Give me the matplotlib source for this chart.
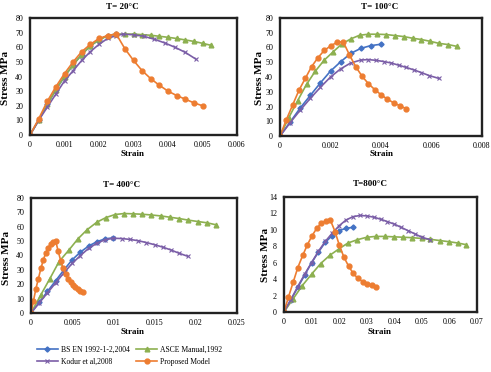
import matplotlib
matplotlib.use('Agg')
import matplotlib.pyplot as plt
from matplotlib.lines import Line2D

plt.rcParams['font.family'] = ['Liberation Serif', 'DejaVu Serif']

# colours (Excel style)
c_bs = '#4472C4'
c_asce = '#8DB050'
c_kodur = '#7B5EA7'
c_prop = '#ED7D31'

# ---- T = 20 C ----
bs20_x = [0, 0.00025, 0.0005, 0.00075, 0.001, 0.00125, 0.0015, 0.00175, 0.002, 0.00225, 0.0025]
bs20_y = [0, 10, 21, 31, 40, 48, 55, 61, 65, 68, 69]
asce20_x = [0, 0.00025, 0.0005, 0.00075, 0.001, 0.00125, 0.0015, 0.00175, 0.002, 0.00225, 0.0025,
            0.00275, 0.003, 0.00325, 0.0035, 0.00375, 0.004, 0.00425, 0.0045, 0.00475, 0.005, 0.00525]
asce20_y = [0, 10, 21, 31, 40, 48, 55, 61, 65, 68, 69,
            69, 69, 68.6, 68.2, 67.5, 66.8, 66, 65, 64, 62.7, 61.3]
kod20_x = [0, 0.00025, 0.0005, 0.00075, 0.001, 0.00125, 0.0015, 0.00175, 0.002, 0.00225, 0.0025, 0.0027,
           0.003, 0.0033, 0.0036, 0.0039, 0.0042, 0.0045, 0.0048]
kod20_y = [0, 10, 19, 28, 37, 44, 51, 57, 62, 66, 68, 69,
           68.5, 67.5, 65.5, 63, 60, 56.5, 52]
prop20_x = [0, 0.00025, 0.0005, 0.00075, 0.001, 0.00125, 0.0015, 0.00175, 0.002, 0.00225, 0.0025,
            0.00275, 0.003, 0.00325, 0.0035, 0.00375, 0.004, 0.00425, 0.0045, 0.00475, 0.005]
prop20_y = [0, 11, 23, 33, 42, 50, 57, 62, 66, 68, 69,
            59, 51, 44, 38.5, 34, 30, 27, 24.5, 22, 20]

# ---- T = 100 C ----
bs100_x = [0, 0.0004, 0.0008, 0.0012, 0.0016, 0.002, 0.0024, 0.0028, 0.0032, 0.0036, 0.004]
bs100_y = [0, 9.4, 19, 27.5, 36, 44, 50.3, 56, 59.4, 61.3, 62.2]
asce100_x = [0, 0.00035, 0.0007, 0.00105, 0.0014, 0.00175, 0.0021, 0.00245, 0.0028, 0.00315, 0.0035,
             0.00385, 0.0042, 0.00455, 0.0049, 0.00525, 0.0056, 0.00595, 0.0063, 0.00665, 0.007]
asce100_y = [0, 12.5, 24, 35, 44, 51.4, 57, 62.4, 65.8, 68.3, 69,
             69, 68.8, 68.1, 67.4, 66.3, 65.4, 64.2, 62.8, 62, 60.8]
kod100_x = [0, 0.0004, 0.0008, 0.0012, 0.0016, 0.002, 0.0024, 0.0028, 0.0032, 0.0035, 0.0038, 0.0041,
            0.0044, 0.0047, 0.005, 0.0053, 0.0056, 0.0059, 0.0063]
kod100_y = [0, 9, 17.5, 25.5, 33, 40, 45.5, 49.5, 51.5, 51.8, 51.3, 50.5,
            49.5, 48, 46.5, 44.8, 43, 41, 39]
prop100_x = [0, 0.00025, 0.0005, 0.00075, 0.001, 0.00125, 0.0015, 0.00175, 0.002, 0.00225, 0.0025,
             0.00275, 0.003, 0.00325, 0.0035, 0.00375, 0.004, 0.00425, 0.0045, 0.00475, 0.005]
prop100_y = [0, 11, 21, 31, 39, 47, 53, 58, 61, 63.5, 64,
             55, 47, 40.5, 35.5, 31.5, 28, 25, 22.5, 20.5, 18.5]

# ---- T = 400 C ----
bs400_x = [0, 0.001, 0.002, 0.003, 0.004, 0.005, 0.006, 0.007, 0.008, 0.009, 0.01]
bs400_y = [0, 7.5, 15, 22.5, 30, 37, 42.4, 46.6, 49.6, 51.6, 52.3]
asce400_x = [0, 0.0012, 0.0023, 0.0034, 0.0046, 0.0057, 0.0068, 0.008, 0.0091, 0.0102, 0.0113,
             0.0124, 0.0135, 0.0146, 0.0158, 0.0169, 0.018, 0.0191, 0.0203, 0.0214, 0.0225]
asce400_y = [0, 12.7, 24, 35.7, 43.8, 51.6, 57.9, 63.2, 66.4, 68.5, 69.2,
             69, 68.7, 68.2, 67.5, 66.6, 65.7, 64.6, 63.6, 62.7, 61.3]
kod400_x = [0, 0.001, 0.002, 0.003, 0.004, 0.005, 0.006, 0.007, 0.008, 0.009, 0.01,
            0.011, 0.012, 0.013, 0.014, 0.015, 0.016, 0.017, 0.018, 0.019]
kod400_y = [0, 7, 14, 21, 28, 34.5, 40, 45, 48.5, 51, 52,
            51.8, 51.2, 50.3, 49, 47.5, 45.8, 43.8, 41.5, 39.5]
prop400_x = [0, 0.0003, 0.0006, 0.0009, 0.0012, 0.0015, 0.0018, 0.0021, 0.0024, 0.0027, 0.003,
             0.0033, 0.0036, 0.0039, 0.0042, 0.0045, 0.0048, 0.0051, 0.0054, 0.0057, 0.006, 0.0063]
prop400_y = [0, 8.5, 17, 24, 31, 37, 42, 45.5, 48, 49.5, 50,
             43, 36.5, 31, 27, 24, 21.5, 19.5, 18, 16.5, 15.5, 14.5]

# ---- T = 800 C ----
bs800_x = [0, 0.0025, 0.005, 0.0075, 0.01, 0.0125, 0.015, 0.0175, 0.02, 0.0225, 0.025]
bs800_y = [0, 1.5, 3, 4.5, 6, 7.3, 8.5, 9.3, 9.9, 10.2, 10.3]
asce800_x = [0, 0.0033, 0.0066, 0.01, 0.0133, 0.0166, 0.02, 0.0232, 0.0266, 0.03, 0.0332,
             0.0365, 0.04, 0.0432, 0.0465, 0.05, 0.053, 0.0565, 0.06, 0.063, 0.066]
asce800_y = [0, 1.6, 3.2, 4.6, 5.9, 6.9, 7.7, 8.4, 8.8, 9.1, 9.2,
             9.2, 9.15, 9.1, 9.05, 8.95, 8.85, 8.7, 8.55, 8.4, 8.2]
kod800_x = [0, 0.0025, 0.005, 0.0075, 0.01, 0.0125, 0.015, 0.0175, 0.02, 0.0225, 0.025, 0.0275,
            0.03, 0.0325, 0.035, 0.0375, 0.04, 0.0425, 0.045, 0.0475, 0.05, 0.053]
kod800_y = [0, 1.5, 3.1, 4.6, 6.0, 7.4, 8.6, 9.6, 10.5, 11.2, 11.6, 11.75,
            11.7, 11.55, 11.3, 11.0, 10.7, 10.3, 9.9, 9.5, 9.1, 8.8]
prop800_x = [0, 0.0016, 0.0034, 0.005, 0.0068, 0.0085, 0.0102, 0.0119, 0.0135, 0.0152, 0.0168,
             0.0185, 0.02, 0.0217, 0.0234, 0.0251, 0.0268, 0.0285, 0.0302, 0.0318, 0.0335]
prop800_y = [0, 1.8, 3.7, 5.4, 6.9, 8.2, 9.3, 10.2, 10.8, 11.1, 11.2,
             9.8, 8.2, 6.7, 5.6, 4.7, 4.1, 3.7, 3.4, 3.25, 3.1]

titles = ['T= 20°C', 'T= 100°C', 'T= 400°C', 'T=800°C']
xlims = [0.006, 0.008, 0.025, 0.07]
xticks = [[0, 0.001, 0.002, 0.003, 0.004, 0.005, 0.006],
          [0, 0.002, 0.004, 0.006, 0.008],
          [0, 0.005, 0.01, 0.015, 0.02, 0.025],
          [0, 0.01, 0.02, 0.03, 0.04, 0.05, 0.06, 0.07]]
ylims = [80, 80, 80, 14]
yticks = [list(range(0, 81, 10))] * 3 + [list(range(0, 15, 2))]

data = [
    [(bs20_x, bs20_y), (asce20_x, asce20_y), (kod20_x, kod20_y), (prop20_x, prop20_y)],
    [(bs100_x, bs100_y), (asce100_x, asce100_y), (kod100_x, kod100_y), (prop100_x, prop100_y)],
    [(bs400_x, bs400_y), (asce400_x, asce400_y), (kod400_x, kod400_y), (prop400_x, prop400_y)],
    [(bs800_x, bs800_y), (asce800_x, asce800_y), (kod800_x, kod800_y), (prop800_x, prop800_y)],
]

styles = [dict(color=c_bs, marker='D', ms=2.6),
          dict(color=c_asce, marker='^', ms=3.4),
          dict(color=c_kodur, marker='x', ms=3, mew=0.8),
          dict(color=c_prop, marker='o', ms=3.5)]

W, H = 491, 372
fig = plt.figure(figsize=(W / 100, H / 100), dpi=100)

# axes boxes in pixels: left, top, right, bottom
boxes = [(30, 18, 237, 135), (280, 18, 482, 136), (31, 198, 237, 313), (284, 197, 477, 312)]
title_pos = [(122, 7), (380, 7), (122, 185), (370, 184)]
ylab_pos = [(6, 78), (260, 78), (7, 258), (266, 255)]
xlab_pos = [(133, 154), (382, 154), (133, 332), (380, 332)]

for i in range(4):
    l, t, r, b = boxes[i]
    ax = fig.add_axes([l / W, 1 - b / H, (r - l) / W, (b - t) / H])
    for (x, y), st in zip(data[i], styles):
        ax.plot(x, y, lw=1.2, **st)
    ax.set_xlim(0, xlims[i])
    ax.set_ylim(0, ylims[i])
    ax.set_xticks(xticks[i])
    ax.set_xticklabels(['0' if v == 0 else ('%g' % v) for v in xticks[i]])
    ax.set_yticks(yticks[i])
    ax.tick_params(axis='y', length=0, labelsize=5.8, pad=5)
    ax.tick_params(axis='x', length=0, labelsize=5.8, pad=4)
    for s in ax.spines.values():
        s.set_linewidth(1.7)
        s.set_color('#222222')
    fig.text(title_pos[i][0] / W, 1 - title_pos[i][1] / H, titles[i], fontsize=6.5,
             fontweight='bold', ha='center', va='center')
    fig.text(ylab_pos[i][0] / W, 1 - ylab_pos[i][1] / H, 'Stress MPa', fontsize=8,
             fontweight='bold', rotation=90, ha='center', va='center')
    fig.text(xlab_pos[i][0] / W, 1 - xlab_pos[i][1] / H, 'Strain', fontsize=6.5,
             fontweight='bold', ha='center', va='center')

labels = ['BS EN 1992-1-2,2004', 'Kodur et al,2008', 'ASCE Manual,1992', 'Proposed Model']
order = [0, 2, 1, 3]
handles = [Line2D([], [], lw=1.2, **styles[k]) for k in order]
fig.legend(handles, labels, ncol=2, loc='upper left', bbox_to_anchor=(30 / W, 1 - 339 / H),
           frameon=False, fontsize=5.5, handlelength=2.7, columnspacing=0.9,
           handletextpad=0.4, labelspacing=0.55)

fig.savefig('out.png', dpi=100)
